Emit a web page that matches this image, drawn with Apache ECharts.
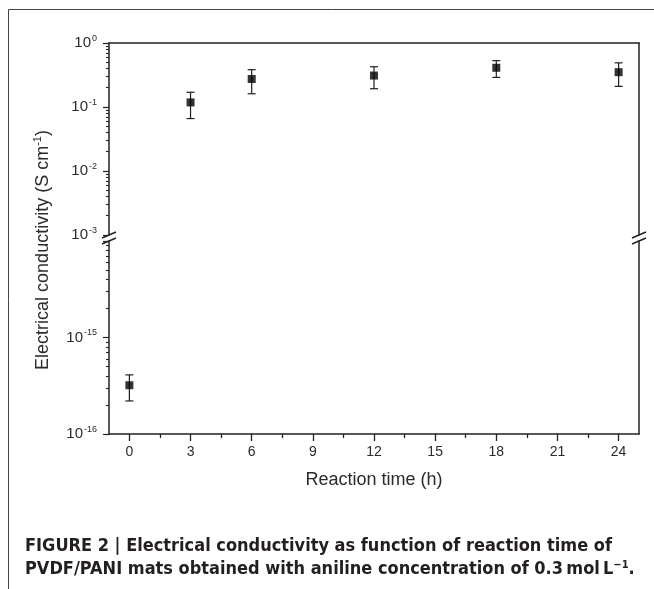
<!DOCTYPE html>
<html>
<head>
<meta charset="utf-8">
<script src="https://cdn.jsdelivr.net/npm/echarts@6/dist/echarts.min.js"></script>
<style>
    html, body { margin: 0; padding: 0; background: #fff; }
    #chart_conductivity { width: 654px; height: 589px; }
</style>
</head>
<body>
<div id="chart_conductivity"></div>
<script>
// reaction time (h) and conductivity (S cm-1)
var times = [0, 3, 6, 12, 18, 24];
var conductivity = [3.2e-16, 0.118, 0.274, 0.31, 0.41, 0.35];
var errLow = [2.2e-16, 0.066, 0.161, 0.193, 0.29, 0.21];
var errHigh = [4.1e-16, 0.17, 0.383, 0.426, 0.53, 0.49];

var xTickLabels = [0, 3, 6, 9, 12, 15, 18, 21, 24];
var xMinorTicks = [1.5, 4.5, 7.5, 10.5, 13.5, 16.5, 19.5, 22.5];
var upperDecades = [1e-3, 1e-2, 1e-1, 1];
var lowerDecades = [1e-16, 1e-15, 1e-14];

function minorTicks(decades) {
    var out = [];
    for (var i = 0; i < decades.length - 1; i++) {
        for (var k = 2; k <= 9; k++) {
            out.push(k * decades[i]);
        }
    }
    return out;
}

var chart = echarts.init(document.getElementById('chart_conductivity'));

var upperPts = [], lowerPts = [], upperErr = [], lowerErr = [];
for (var i = 0; i < times.length; i++) {
    if (conductivity[i] >= 1e-3) {
        upperPts.push([times[i], conductivity[i]]);
        upperErr.push([times[i], errLow[i], errHigh[i]]);
    } else {
        lowerPts.push([times[i], conductivity[i]]);
        lowerErr.push([times[i], errLow[i], errHigh[i]]);
    }
}

var axisColor = '#222';
var textColor = '#2b2b2b';
var font = 'Liberation Sans, Arial, sans-serif';
var axisLineStyle = { show: true, onZero: false, lineStyle: { color: axisColor, width: 1.5 } };

function powLabel(value) {
    var e = Math.round(Math.log(value) / Math.LN10);
    return '{b|10}{s|' + e + '}';
}
var powRich = {
    b: { fontSize: 15, color: textColor, fontFamily: font },
    s: { fontSize: 9, color: textColor, fontFamily: font, padding: [0, 0, 9, 1] }
};

function renderErrorBar(params, api) {
    var x = api.value(0);
    var lo = api.coord([x, api.value(1)]);
    var hi = api.coord([x, api.value(2)]);
    var half = 4;
    var style = { stroke: '#1e1e1e', lineWidth: 1.2 };
    return {
        type: 'group',
        children: [
            { type: 'line', shape: { x1: hi[0], y1: hi[1], x2: lo[0], y2: lo[1] }, style: style },
            { type: 'line', shape: { x1: hi[0] - half, y1: hi[1], x2: hi[0] + half, y2: hi[1] }, style: style },
            { type: 'line', shape: { x1: lo[0] - half, y1: lo[1], x2: lo[0] + half, y2: lo[1] }, style: style }
        ]
    };
}

function lineOnly(extra) {
    var a = {
        axisLine: axisLineStyle,
        axisTick: { show: false },
        axisLabel: { show: false },
        splitLine: { show: false }
    };
    for (var k in extra) a[k] = extra[k];
    return a;
}

function breakMark(x, y) {
    return {
        type: 'line',
        shape: { x1: x - 7, y1: y + 3, x2: x + 7, y2: y - 3 },
        style: { stroke: axisColor, lineWidth: 1.5 },
        z: 100
    };
}

var option = {
    animation: false,
    backgroundColor: '#fff',
    title: {
        left: 20,
        top: 530,
        text: 'FIGURE 2 | Electrical conductivity as function of reaction time of\n' +
              'PVDF/PANI mats obtained with aniline concentration of 0.3\u2009mol\u2009L{s|\u22121}.',
        textStyle: {
            fontFamily: 'Liberation Sans Narrow, DejaVu Sans Condensed, sans-serif',
            fontWeight: 'bold',
            fontSize: 18,
            lineHeight: 23,
            color: '#231f20',
            rich: {
                s: {
                    fontFamily: 'Liberation Sans Narrow, DejaVu Sans Condensed, sans-serif',
                    fontWeight: 'bold', fontSize: 11, color: '#231f20',
                    padding: [0, 0, 9, 0]
                }
            }
        }
    },
    grid: [
        { left: 109, top: 43, width: 530, height: 192 },
        { left: 109, top: 241, width: 530, height: 193 }
    ],
    xAxis: [
        lineOnly({ type: 'value', gridIndex: 0, position: 'top', min: -1, max: 25 }),
        {
            type: 'value', gridIndex: 1, position: 'bottom', min: -1, max: 25,
            name: 'Reaction time (h)', nameLocation: 'middle', nameGap: 37,
            nameTextStyle: { fontSize: 18, color: textColor, fontFamily: font },
            axisLine: axisLineStyle,
            axisTick: { show: true, length: 7, customValues: xTickLabels, lineStyle: { color: axisColor, width: 1.3 } },
            axisLabel: { customValues: xTickLabels, margin: 11, fontSize: 14, color: textColor, fontFamily: font },
            splitLine: { show: false }
        },
        {
            type: 'value', gridIndex: 1, position: 'bottom', min: -1, max: 25,
            axisLine: { show: false, onZero: false },
            axisTick: { show: true, length: 4, customValues: xMinorTicks, lineStyle: { color: axisColor, width: 1.3 } },
            axisLabel: { show: false },
            splitLine: { show: false }
        }
    ],
    yAxis: [
        {
            type: 'log', logBase: 10, gridIndex: 0, position: 'left', min: 1e-3, max: 1,
            axisLine: axisLineStyle,
            axisTick: { show: true, length: 6, customValues: upperDecades, lineStyle: { color: axisColor, width: 1.2 } },
            axisLabel: { customValues: upperDecades, margin: 12, formatter: powLabel, rich: powRich },
            splitLine: { show: false }
        },
        {
            type: 'log', logBase: 10, gridIndex: 0, position: 'left', min: 1e-3, max: 1,
            axisLine: { show: false, onZero: false },
            axisTick: { show: true, length: 3, customValues: minorTicks(upperDecades), lineStyle: { color: axisColor, width: 1.1 } },
            axisLabel: { show: false },
            splitLine: { show: false }
        },
        lineOnly({ type: 'log', logBase: 10, gridIndex: 0, position: 'right', min: 1e-3, max: 1 }),
        {
            type: 'log', logBase: 10, gridIndex: 1, position: 'left', min: 1e-16, max: 1e-14,
            axisLine: axisLineStyle,
            axisTick: { show: true, length: 6, customValues: lowerDecades, lineStyle: { color: axisColor, width: 1.2 } },
            axisLabel: { customValues: [1e-16, 1e-15], margin: 12, formatter: powLabel, rich: powRich },
            splitLine: { show: false }
        },
        {
            type: 'log', logBase: 10, gridIndex: 1, position: 'left', min: 1e-16, max: 1e-14,
            axisLine: { show: false, onZero: false },
            axisTick: { show: true, length: 3, customValues: minorTicks(lowerDecades), lineStyle: { color: axisColor, width: 1.1 } },
            axisLabel: { show: false },
            splitLine: { show: false }
        },
        lineOnly({ type: 'log', logBase: 10, gridIndex: 1, position: 'right', min: 1e-16, max: 1e-14 })
    ],
    graphic: [
        {
            type: 'polyline',
            shape: { points: [[8.5, 589], [8.5, 9.5], [654, 9.5]] },
            style: { stroke: '#444', lineWidth: 1, fill: null }
        },
        {
            type: 'text',
            x: 43, y: 250,
            rotation: Math.PI / 2,
            style: {
                text: '{n|Electrical conductivity (S cm}{s|-1}{n|)}',
                align: 'center', verticalAlign: 'middle',
                rich: {
                    n: { fontSize: 18, fill: textColor, fontFamily: font },
                    s: { fontSize: 11, fill: textColor, fontFamily: font, padding: [0, 0, 10, 0] }
                }
            }
        },
        breakMark(109, 235), breakMark(109, 241),
        breakMark(639, 235), breakMark(639, 241)
    ],
    series: [
        { type: 'custom', xAxisIndex: 0, yAxisIndex: 0, data: upperErr, renderItem: renderErrorBar, encode: { x: 0, y: [1, 2] }, z: 2 },
        { type: 'custom', xAxisIndex: 1, yAxisIndex: 3, data: lowerErr, renderItem: renderErrorBar, encode: { x: 0, y: [1, 2] }, z: 2 },
        { type: 'scatter', xAxisIndex: 0, yAxisIndex: 0, data: upperPts, symbol: 'rect', symbolSize: 8, itemStyle: { color: '#000' }, z: 3 },
        { type: 'scatter', xAxisIndex: 1, yAxisIndex: 3, data: lowerPts, symbol: 'rect', symbolSize: 8, itemStyle: { color: '#000' }, z: 3 }
    ]
};

chart.setOption(option);
window.onresize = chart.resize;
</script>
</body>
</html>
